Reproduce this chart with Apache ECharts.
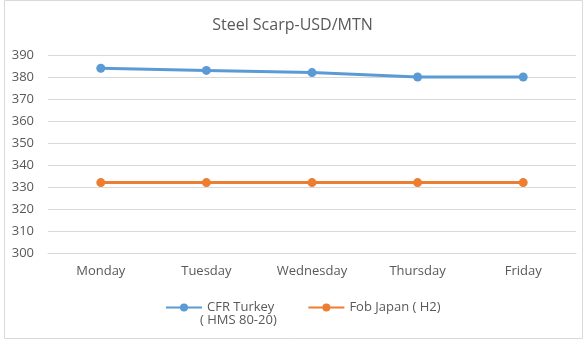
<!DOCTYPE html>
<html><head><meta charset="utf-8">
<script src="https://cdn.jsdelivr.net/npm/echarts@6/dist/echarts.min.js"></script>
<style>html,body{margin:0;padding:0;background:#fff}#c{width:585px;height:340px}</style>
</head><body><div id="c"></div>
<script>
const categories = ['Monday', 'Tuesday', 'Wednesday', 'Thursday', 'Friday'];
const cfrTurkey = [384, 383, 382, 380, 380];
const fobJapan = [332, 332, 332, 332, 332];
const seriesNames = ['CFR Turkey\n( HMS 80-20)', 'Fob Japan ( H2)'];
const titleText = 'Steel Scarp-USD/MTN';

const chart = echarts.init(document.getElementById('c'));
const font = '"Open Sans", "DejaVu Sans", sans-serif';
const grey = '#595959';
chart.setOption({
  animation: false,
  backgroundColor: '#fff',
  graphic: [
    {type: 'rect', shape: {x: 4.5, y: 0.5, width: 578, height: 338}, style: {fill: 'none', stroke: '#d9d9d9', lineWidth: 1}},
    {type: 'text', left: 200, top: 314, style: {text: seriesNames[0].split('\n')[1], font: '13px ' + font, fill: grey}}
  ],
  title: {text: titleText, left: 'center', top: 12, textStyle: {fontFamily: font, fontSize: 16, fontWeight: 'normal', color: grey}},
  grid: {left: 48, right: 9, top: 55, bottom: 87, containLabel: false},
  legend: {
    top: 296, left: 160, itemGap: 33, itemWidth: 36, itemHeight: 10,
    formatter: name => name.split('\n')[0],
    textStyle: {fontFamily: font, fontSize: 13, color: grey},
    data: seriesNames
  },
  xAxis: {
    type: 'category', data: categories, boundaryGap: true,
    axisLine: {lineStyle: {color: '#d9d9d9'}}, axisTick: {show: false},
    axisLabel: {fontFamily: font, fontSize: 13, color: grey, margin: 12}
  },
  yAxis: {
    type: 'value', min: 300, max: 390, interval: 10,
    axisLine: {show: false}, axisTick: {show: false},
    splitLine: {lineStyle: {color: '#d9d9d9'}},
    axisLabel: {fontFamily: font, fontSize: 13, color: grey, margin: 14}
  },
  series: [
    {name: seriesNames[0], type: 'line', data: cfrTurkey, symbol: 'circle', symbolSize: 9,
     lineStyle: {width: 3, color: '#5b9bd5'}, itemStyle: {color: '#5b9bd5'}},
    {name: seriesNames[1], type: 'line', data: fobJapan, symbol: 'circle', symbolSize: 9,
     lineStyle: {width: 3, color: '#ed7d31'}, itemStyle: {color: '#ed7d31'}}
  ]
});
</script></body></html>
